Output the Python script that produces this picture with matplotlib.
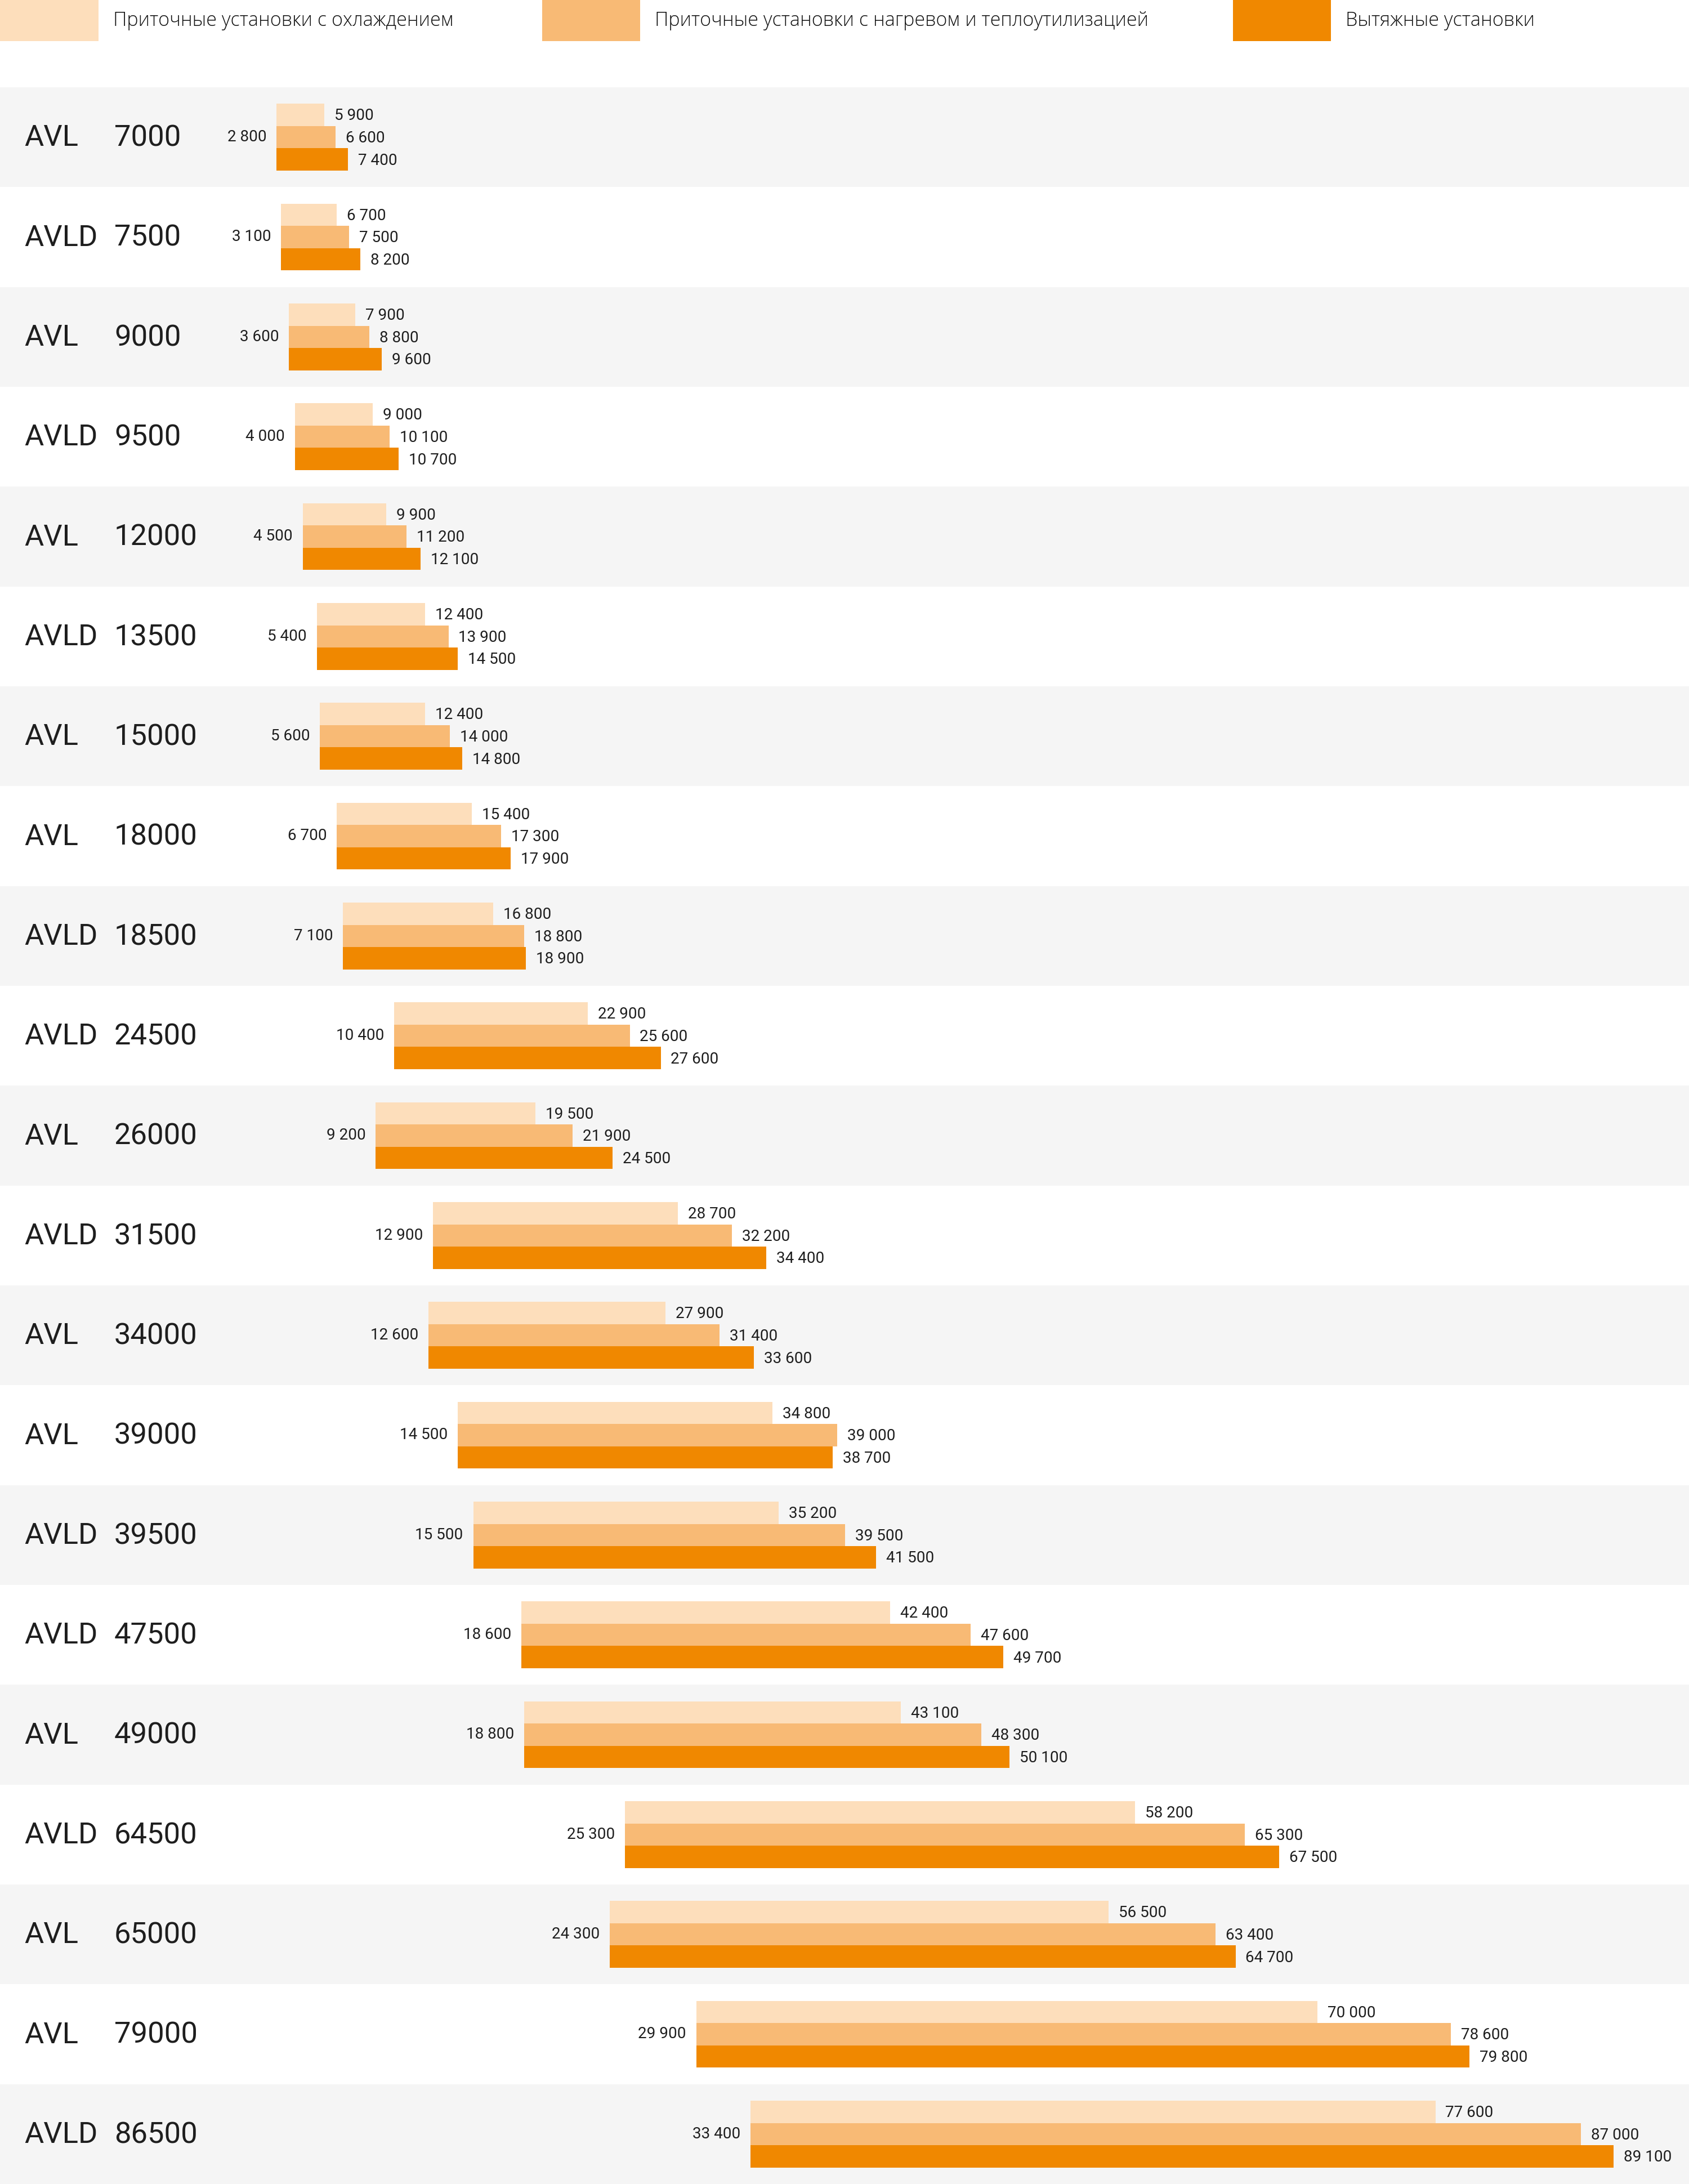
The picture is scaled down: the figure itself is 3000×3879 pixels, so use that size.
import matplotlib
matplotlib.use("Agg")
import matplotlib.pyplot as plt
from matplotlib.patches import Rectangle

# data
series = ["AVL", "AVLD", "AVL", "AVLD", "AVL", "AVLD", "AVL", "AVL", "AVLD", "AVLD", "AVL",
          "AVLD", "AVL", "AVL", "AVLD", "AVLD", "AVL", "AVLD", "AVL", "AVL", "AVLD"]
models = ["7000", "7500", "9000", "9500", "12000", "13500", "15000", "18000", "18500", "24500", "26000",
          "31500", "34000", "39000", "39500", "47500", "49000", "64500", "65000", "79000", "86500"]
start = [2800, 3100, 3600, 4000, 4500, 5400, 5600, 6700, 7100, 10400, 9200,
         12900, 12600, 14500, 15500, 18600, 18800, 25300, 24300, 29900, 33400]
cooling = [5900, 6700, 7900, 9000, 9900, 12400, 12400, 15400, 16800, 22900, 19500,
           28700, 27900, 34800, 35200, 42400, 43100, 58200, 56500, 70000, 77600]
heating = [6600, 7500, 8800, 10100, 11200, 13900, 14000, 17300, 18800, 25600, 21900,
           32200, 31400, 39000, 39500, 47600, 48300, 65300, 63400, 78600, 87000]
exhaust = [7400, 8200, 9600, 10700, 12100, 14500, 14800, 17900, 18900, 27600, 24500,
           34400, 33600, 38700, 41500, 49700, 50100, 67500, 64700, 79800, 89100]
legend_labels = ["Приточные установки с охлаждением",
                 "Приточные установки с нагревом и теплоутилизацией",
                 "Вытяжные установки"]

colors = ["#fddebb", "#f8ba75", "#f08800"]
text_color = "#1e1e1e"
W, H = 3000, 3879
n = len(models)
row_h = (H - 155) / n
px_per_unit = 0.02752
x0_px = 414


def fmt(v):
    return f"{v:,}".replace(",", " ")


fig = plt.figure(figsize=(W / 300, H / 300), dpi=300)
ax = fig.add_axes([0, 0, 1, 1])
ax.set_xlim(-x0_px / px_per_unit, (W - x0_px) / px_per_unit)
ax.set_ylim(n, -155 / row_h)
ax.axis("off")

for i in range(n):
    if i % 2 == 0:
        ax.axhspan(i, i + 1, color="#f5f5f5", lw=0, zorder=0)

bar_h = 0.2236
for j, vals in enumerate([cooling, heating, exhaust]):
    for i in range(n):
        y = i + 0.5 + (j - 1) * bar_h
        ax.barh(y, vals[i] - start[i], left=start[i], height=bar_h,
                color=colors[j], lw=0, zorder=2)
        ax.annotate(fmt(vals[i]), xy=(vals[i], y + 0.01), xytext=(4.3, 0),
                    textcoords="offset points", ha="left", va="center",
                    fontsize=6.7, family="Roboto", color=text_color)

ytr = ax.get_yaxis_transform()
for i in range(n):
    ax.annotate(fmt(start[i]), xy=(start[i], i + 0.5), xytext=(-4.3, 0),
                textcoords="offset points", ha="right", va="center",
                fontsize=6.7, family="Roboto", color=text_color)
    ax.text(43 / W, i + 0.51, series[i], transform=ytr, ha="left", va="center",
            fontsize=12.6, family="Roboto", color=text_color)
    ax.text(203 / W, i + 0.51, models[i], transform=ytr, ha="left", va="center",
            fontsize=12.6, family="Roboto", color=text_color)

# legend
patch_x = [(0, 175), (963, 1137), (2190, 2364)]
text_x = [201, 1163, 2390]
for k in range(3):
    a, b = patch_x[k]
    fig.add_artist(Rectangle((a / W, 1 - 73 / H), (b - a) / W, 73 / H,
                             transform=fig.transFigure, color=colors[k], lw=0))
    fig.text(text_x[k] / W, 1 - 37 / H, legend_labels[k], ha="left", va="center",
             fontsize=8.2, family="Open Sans", fontweight="light", color="#111111")

fig.savefig("out.png", dpi=300, facecolor="white")
